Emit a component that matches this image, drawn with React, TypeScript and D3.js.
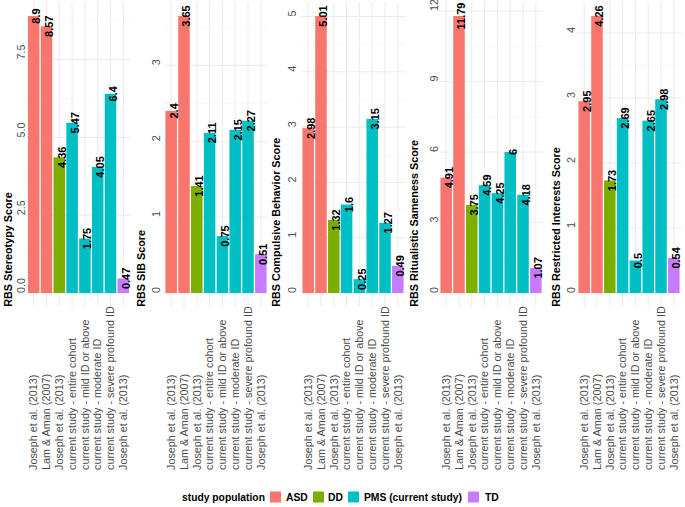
import React from "react";
import * as d3 from "d3";

const categories = [
  "Joseph et al. (2013)",
  "Lam & Aman (2007)",
  "Joseph et al. (2013)",
  "current study - entire cohort",
  "current study - mild ID or above",
  "current study - moderate ID",
  "current study - severe profound ID",
  "Joseph et al. (2013)",
];
const groups = ["ASD", "ASD", "DD", "PMS", "PMS", "PMS", "PMS", "TD"];
const groupKeys = ["ASD", "DD", "PMS", "TD"];
const legendLabels = ["ASD", "DD", "PMS (current study)", "TD"];
const groupColors = ["#F8766D", "#7CAE00", "#00BFC4", "#C77CFF"];
const legendTitle = "study population";

const panelTitles = [
  "RBS Stereotypy Score",
  "RBS SIB Score",
  "RBS Compulsive Behavior Score",
  "RBS Ritualistic Sameness Score",
  "RBS Restricted Interests Score",
];
const stereotypy = [8.9, 8.57, 4.36, 5.47, 1.75, 4.05, 6.4, 0.47];
const sib = [2.4, 3.65, 1.41, 2.11, 0.75, 2.15, 2.27, 0.51];
const compulsive = [2.98, 5.01, 1.32, 1.6, 0.25, 3.15, 1.27, 0.49];
const ritualistic = [4.91, 11.79, 3.75, 4.59, 4.25, 6, 4.18, 1.07];
const restricted = [2.95, 4.26, 1.73, 2.69, 0.5, 2.65, 2.98, 0.54];
const panelValues = [stereotypy, sib, compulsive, ritualistic, restricted];

const panelTicks = [
  [0, 2.5, 5, 7.5],
  [0, 1, 2, 3],
  [0, 1, 2, 3, 4, 5],
  [0, 3, 6, 9, 12],
  [0, 1, 2, 3, 4],
];
const panelTickLabels = [
  ["0.0", "2.5", "5.0", "7.5"],
  ["0", "1", "2", "3"],
  ["0", "1", "2", "3", "4", "5"],
  ["0", "3", "6", "9", "12"],
  ["0", "1", "2", "3", "4"],
];

// layout
const W = 685;
const H = 507;
const PANEL_LEFT = [26, 163.5, 300.5, 438.5, 576.5];
const PANEL_W = 105;
const TITLE_X = [8, 141, 276, 414, 556];
const TICK_X = [21, 156, 292, 434, 571];
const BASE_Y = 293;
const MAX_Y = 16;
const XLABEL_Y = 470;
const LEGEND_Y = 497;
const FONT = "'Liberation Sans', Arial, Helvetica, sans-serif";

const colorScale = d3.scaleOrdinal<string, string>().domain(groupKeys).range(groupColors);

function Panel({ idx }: { idx: number }) {
  const values = panelValues[idx];
  const max = d3.max(values) as number;
  const y = d3.scaleLinear().domain([0, max]).range([BASE_Y, MAX_Y]);
  const x = d3
    .scalePoint<number>()
    .domain(d3.range(categories.length))
    .range([PANEL_LEFT[idx], PANEL_LEFT[idx] + PANEL_W])
    .padding(0.6);
  const step = x.step();
  const bw = step * 0.9;
  const top = y(max * 1.05);
  const bottom = y(-max * 0.05);
  const ticks = panelTicks[idx];
  const minor: number[] = [];
  for (let i = 0; i < ticks.length; i++) {
    const d = ticks.length > 1 ? ticks[1] - ticks[0] : 1;
    const m = ticks[i] + d / 2;
    if (m <= max * 1.05) minor.push(m);
  }
  const left = PANEL_LEFT[idx];
  const right = left + PANEL_W;
  return (
    <g>
      {minor.map((m, i) => (
        <line key={"mn" + i} x1={left} x2={right} y1={y(m)} y2={y(m)} stroke="#f2f2f2" strokeWidth={0.6} />
      ))}
      {ticks.map((t, i) => (
        <line key={"mj" + i} x1={left} x2={right} y1={y(t)} y2={y(t)} stroke="#ebebeb" strokeWidth={1} />
      ))}
      {categories.map((c, i) => (
        <line key={"vg" + i} x1={x(i)} x2={x(i)} y1={top} y2={bottom} stroke="#ebebeb" strokeWidth={1} />
      ))}
      {values.map((v, i) => (
        <rect
          key={"b" + i}
          x={(x(i) as number) - bw / 2}
          y={y(v)}
          width={bw}
          height={y(0) - y(v)}
          fill={colorScale(groups[i])}
        />
      ))}
      {values.map((v, i) => (
        <text
          key={"vl" + i}
          transform={`translate(${x(i)},${y(v)}) rotate(-90)`}
          dy={6.5}
          textAnchor="middle"
          fontSize={11}
          fontWeight="bold"
          fill="#000"
        >
          {String(v)}
        </text>
      ))}
      {ticks.map((t, i) => (
        <text
          key={"tl" + i}
          transform={`translate(${TICK_X[idx]},${y(t)}) rotate(-90)`}
          dy="0.35em"
          textAnchor="start"
          fontSize={10.8}
          fill="#4d4d4d"
        >
          {panelTickLabels[idx][i]}
        </text>
      ))}
      <text
        transform={`translate(${TITLE_X[idx]},${bottom}) rotate(-90)`}
        dy="0.35em"
        textAnchor="start"
        fontSize={10.8}
        fontWeight="bold"
        fill="#000"
      >
        {panelTitles[idx]}
      </text>
      {categories.map((c, i) => (
        <text
          key={"xl" + i}
          transform={`translate(${x(i)},${XLABEL_Y}) rotate(-90)`}
          dy="0.35em"
          textAnchor="start"
          fontSize={10.8}
          fill="#4d4d4d"
        >
          {c}
        </text>
      ))}
    </g>
  );
}

export default function App() {
  const keyX = [270, 313, 348, 468];
  const labelX = [286, 328, 364, 485];
  return (
    <svg
      width={W}
      height={H}
      viewBox={`0 0 ${W} ${H}`}
      style={{ position: "absolute", left: 0, top: 0, background: "#fff", fontFamily: FONT }}
    >
      <rect x={0} y={0} width={W} height={H} fill="#fff" />
      {panelTitles.map((_, i) => (
        <Panel key={i} idx={i} />
      ))}
      <g>
        <text x={182} y={LEGEND_Y} dy="0.35em" fontSize={10.3} fontWeight="bold" fill="#000">
          {legendTitle}
        </text>
        {groupKeys.map((g, i) => (
          <g key={g}>
            <rect x={keyX[i]} y={LEGEND_Y - 5.5} width={11} height={11} fill={colorScale(g)} />
            <text x={labelX[i]} y={LEGEND_Y} dy="0.35em" fontSize={10.3} fontWeight="bold" fill="#000">
              {legendLabels[i]}
            </text>
          </g>
        ))}
      </g>
    </svg>
  );
}
